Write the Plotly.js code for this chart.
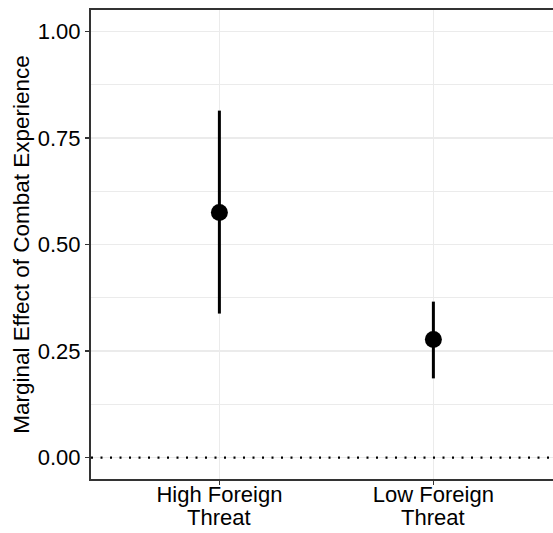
<!DOCTYPE html>
<html>
<head>
<meta charset="utf-8">
<script src="https://cdn.plot.ly/plotly-3.0.1.min.js"></script>
<style>html,body{margin:0;padding:0;background:#fff;}#chart{width:553px;height:533px;}</style>
</head>
<body>
<div id="chart"></div>
<script>
const categories = ["High Foreign Threat", "Low Foreign Threat"];
const labelLine1 = ["High Foreign", "Low Foreign"];
const labelLine2 = ["Threat", "Threat"];
const estimates = [0.575, 0.277];
const upper = [0.814, 0.366];
const lower = [0.338, 0.186];
const yTickVals = [0, 0.25, 0.5, 0.75, 1.0];
const yTickText = ["0.00", "0.25", "0.50", "0.75", "1.00"];
const yTitle = "Marginal Effect of Combat Experience";

const font = "Liberation Sans, Arial, Helvetica, sans-serif";

const trace = {
  type: "scatter",
  mode: "markers",
  x: categories,
  y: estimates,
  marker: {color: "#000", size: 17},
  error_y: {
    type: "data",
    symmetric: false,
    array: upper.map((u, i) => u - estimates[i]),
    arrayminus: lower.map((l, i) => estimates[i] - l),
    color: "#000",
    thickness: 3,
    width: 0
  },
  hoverinfo: "skip",
  showlegend: false
};

const layout = {
  width: 553,
  height: 533,
  margin: {l: 91, r: 0, t: 10, b: 54},
  paper_bgcolor: "#fff",
  plot_bgcolor: "#fff",
  font: {family: font, size: 22, color: "#000"},
  showlegend: false,
  xaxis: {
    type: "category",
    categoryarray: categories,
    range: [-0.6, 1.559],
    tickmode: "array",
    tickvals: categories,
    ticktext: labelLine1,
    showgrid: true,
    gridcolor: "#EBEBEB",
    gridwidth: 1.5,
    zeroline: false,
    showline: true,
    linecolor: "#333",
    linewidth: 2,
    mirror: true,
    ticks: "outside",
    ticklen: 4,
    tickcolor: "#333",
    tickwidth: 1.2,
    ticklabelstandoff: -9,
    tickfont: {family: font, size: 22, color: "#000"},
    fixedrange: true
  },
  yaxis: {
    range: [-0.05, 1.05],
    tickmode: "array",
    tickvals: yTickVals,
    ticktext: yTickText,
    showgrid: true,
    gridcolor: "#EBEBEB",
    gridwidth: 1.5,
    minor: {dtick: 0.125, tick0: 0.125, showgrid: true, gridcolor: "#EBEBEB", gridwidth: 1, ticks: ""},
    zeroline: false,
    showline: true,
    linecolor: "#333",
    linewidth: 2,
    ticks: "outside",
    ticklen: 4,
    tickcolor: "#333",
    tickwidth: 1.2,
    tickfont: {family: font, size: 22, color: "#000"},
    title: {text: yTitle, font: {family: font, size: 22.5, color: "#000"}, standoff: 2},
    automargin: false,
    fixedrange: true
  },
  annotations: categories.map((c, i) => ({
    xref: "x", x: c,
    yref: "paper", y: 0,
    yanchor: "top", xanchor: "center",
    yshift: -25,
    text: labelLine2[i],
    showarrow: false,
    borderpad: 0,
    font: {family: font, size: 22, color: "#000"}
  })),
  shapes: [{
    type: "line",
    xref: "paper", x0: 0, x1: 1,
    yref: "y", y0: 0, y1: 0,
    line: {color: "#000", width: 2.2, dash: "2px,7.5px"},
    layer: "above"
  }]
};

Plotly.newPlot("chart", [trace], layout, {displayModeBar: false, staticPlot: true});
</script>
</body>
</html>
